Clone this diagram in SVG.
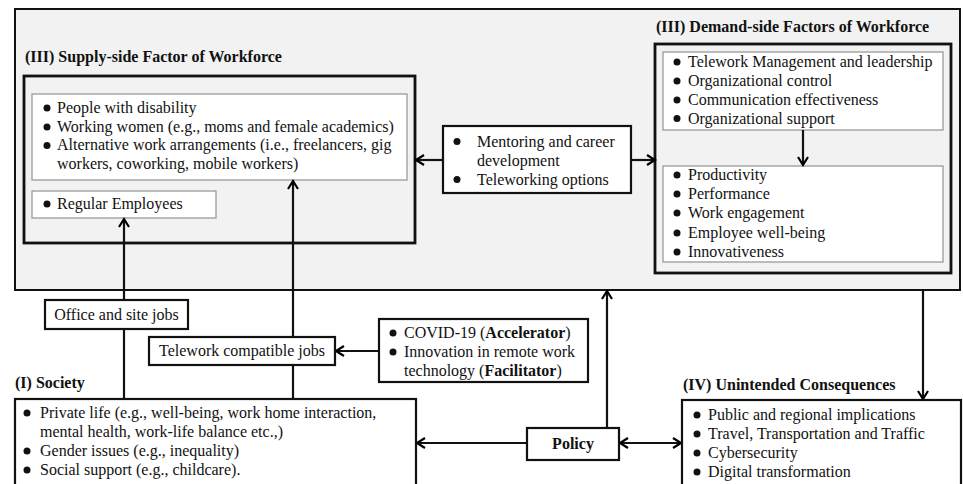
<svg xmlns="http://www.w3.org/2000/svg" width="963" height="484" viewBox="0 0 963 484">
<defs>
<marker id="arr" markerUnits="userSpaceOnUse" markerWidth="14" markerHeight="14" viewBox="0 0 14 14" refX="11" refY="7" orient="auto-start-reverse">
<path d="M3,2 L11,7 L3,12" fill="none" stroke="#000" stroke-width="2.2"/>
</marker>
</defs>
<style>
text{font-family:"Liberation Serif","Times New Roman",serif;font-size:16px;fill:#111}
.b{font-weight:bold}
.outer{fill:#f2f2f2;stroke:#111;stroke-width:2}
.thick{fill:#f2f2f2;stroke:#111;stroke-width:2.8}
.inner{fill:#fff;stroke:#9a9a9a;stroke-width:1.3}
.box{fill:#fff;stroke:#111;stroke-width:2.2}
.con{fill:none;stroke:#111;stroke-width:2.2}
.dot{fill:#111}
</style>
<rect class="outer" x="15" y="9" width="945" height="281"/>

<g id="supply">
<text class="b" x="25" y="62">(III) Supply-side Factor of Workforce</text>
<rect class="thick" x="24" y="76" width="391" height="167"/>
<rect class="inner" x="32" y="94" width="375" height="86"/>
<circle class="dot" cx="47" cy="108" r="3.5"/>
<circle class="dot" cx="47" cy="127" r="3.5"/>
<circle class="dot" cx="47" cy="145.5" r="3.5"/>
<text x="57" y="113">People with disability</text>
<text x="57" y="131.7">Working women (e.g., moms and female academics)</text>
<text x="57" y="150.3">Alternative work arrangements (i.e., freelancers, gig</text>
<text x="57" y="169">workers, coworking, mobile workers)</text>
<rect class="inner" x="32" y="191" width="184" height="27"/>
<circle class="dot" cx="47" cy="204" r="3.5"/>
<text x="57" y="209">Regular Employees</text>
</g>

<g id="mentoring">
<rect class="box" x="443" y="126" width="188" height="67"/>
<circle class="dot" cx="457" cy="141.5" r="3.5"/>
<circle class="dot" cx="457" cy="179.5" r="3.5"/>
<text x="477" y="146.5">Mentoring and career</text>
<text x="477" y="165.5">development</text>
<text x="477" y="184.5">Teleworking options</text>
</g>

<g id="demand">
<text class="b" x="656" y="32">(III) Demand-side Factors of Workforce</text>
<rect class="thick" x="655" y="44" width="296" height="229"/>
<rect class="inner" x="663" y="52" width="280" height="78"/>
<circle class="dot" cx="677" cy="62" r="3.5"/>
<circle class="dot" cx="677" cy="81" r="3.5"/>
<circle class="dot" cx="677" cy="100" r="3.5"/>
<circle class="dot" cx="677" cy="118.5" r="3.5"/>
<text x="688" y="67">Telework Management and leadership</text>
<text x="688" y="86">Organizational control</text>
<text x="688" y="105">Communication effectiveness</text>
<text x="688" y="123.5">Organizational support</text>
<rect class="inner" x="663" y="166" width="280" height="96"/>
<circle class="dot" cx="677" cy="175" r="3.5"/>
<circle class="dot" cx="677" cy="194" r="3.5"/>
<circle class="dot" cx="677" cy="213" r="3.5"/>
<circle class="dot" cx="677" cy="233" r="3.5"/>
<circle class="dot" cx="677" cy="252" r="3.5"/>
<text x="688" y="180">Productivity</text>
<text x="688" y="199">Performance</text>
<text x="688" y="218">Work engagement</text>
<text x="688" y="238">Employee well-being</text>
<text x="688" y="257">Innovativeness</text>
</g>

<g id="connectors">
<line class="con" x1="443" y1="160" x2="416" y2="160" marker-end="url(#arr)"/>
<line class="con" x1="631" y1="160" x2="655" y2="160" marker-end="url(#arr)"/>
<line class="con" x1="803" y1="130" x2="803" y2="165" marker-end="url(#arr)"/>
<line class="con" x1="124" y1="399" x2="124" y2="219" marker-end="url(#arr)"/>
<line class="con" x1="293" y1="399" x2="293" y2="181" marker-end="url(#arr)"/>
<line class="con" x1="379" y1="351" x2="336" y2="351" marker-end="url(#arr)"/>
<line class="con" x1="607" y1="428" x2="607" y2="291" marker-end="url(#arr)"/>
<line class="con" x1="527" y1="443" x2="417" y2="443" marker-end="url(#arr)"/>
<line class="con" x1="620" y1="443" x2="681" y2="443" marker-start="url(#arr)" marker-end="url(#arr)"/>
<line class="con" x1="923" y1="290" x2="923" y2="399" marker-end="url(#arr)"/>
</g>

<g id="office">
<rect class="box" x="45" y="300" width="143" height="29"/>
<text x="116.5" y="320" text-anchor="middle">Office and site jobs</text>
</g>

<g id="telework">
<rect class="box" x="149" y="337" width="186" height="28"/>
<text x="242" y="356" text-anchor="middle">Telework compatible jobs</text>
</g>

<g id="covid">
<rect class="box" x="379" y="319" width="209" height="63"/>
<circle class="dot" cx="393" cy="333" r="3.5"/>
<circle class="dot" cx="393" cy="352" r="3.5"/>
<text x="404" y="338">COVID-19 (<tspan class="b">Accelerator</tspan>)</text>
<text x="404" y="357">Innovation in remote work</text>
<text x="404" y="376">technology (<tspan class="b">Facilitator</tspan>)</text>
</g>

<g id="society">
<text class="b" x="15" y="388">(I) Society</text>
<rect class="box" x="15" y="399" width="401" height="100"/>
<circle class="dot" cx="27" cy="413" r="3.5"/>
<circle class="dot" cx="27" cy="451" r="3.5"/>
<circle class="dot" cx="27" cy="470" r="3.5"/>
<text x="40" y="418">Private life (e.g., well-being, work home interaction,</text>
<text x="40" y="437">mental health, work-life balance etc.,)</text>
<text x="40" y="456">Gender issues (e.g., inequality)</text>
<text x="40" y="475">Social support (e.g., childcare).</text>
</g>

<g id="policy">
<rect class="box" x="527" y="428" width="92" height="32"/>
<text class="b" x="573" y="449" text-anchor="middle">Policy</text>
</g>

<g id="unintended">
<text class="b" x="683" y="390">(IV) Unintended Consequences</text>
<rect class="box" x="682" y="400" width="279" height="100"/>
<circle class="dot" cx="697" cy="415" r="3.5"/>
<circle class="dot" cx="697" cy="434" r="3.5"/>
<circle class="dot" cx="697" cy="453" r="3.5"/>
<circle class="dot" cx="697" cy="472" r="3.5"/>
<text x="708" y="420">Public and regional implications</text>
<text x="708" y="439">Travel, Transportation and Traffic</text>
<text x="708" y="458">Cybersecurity</text>
<text x="708" y="477">Digital transformation</text>
</g>
</svg>
